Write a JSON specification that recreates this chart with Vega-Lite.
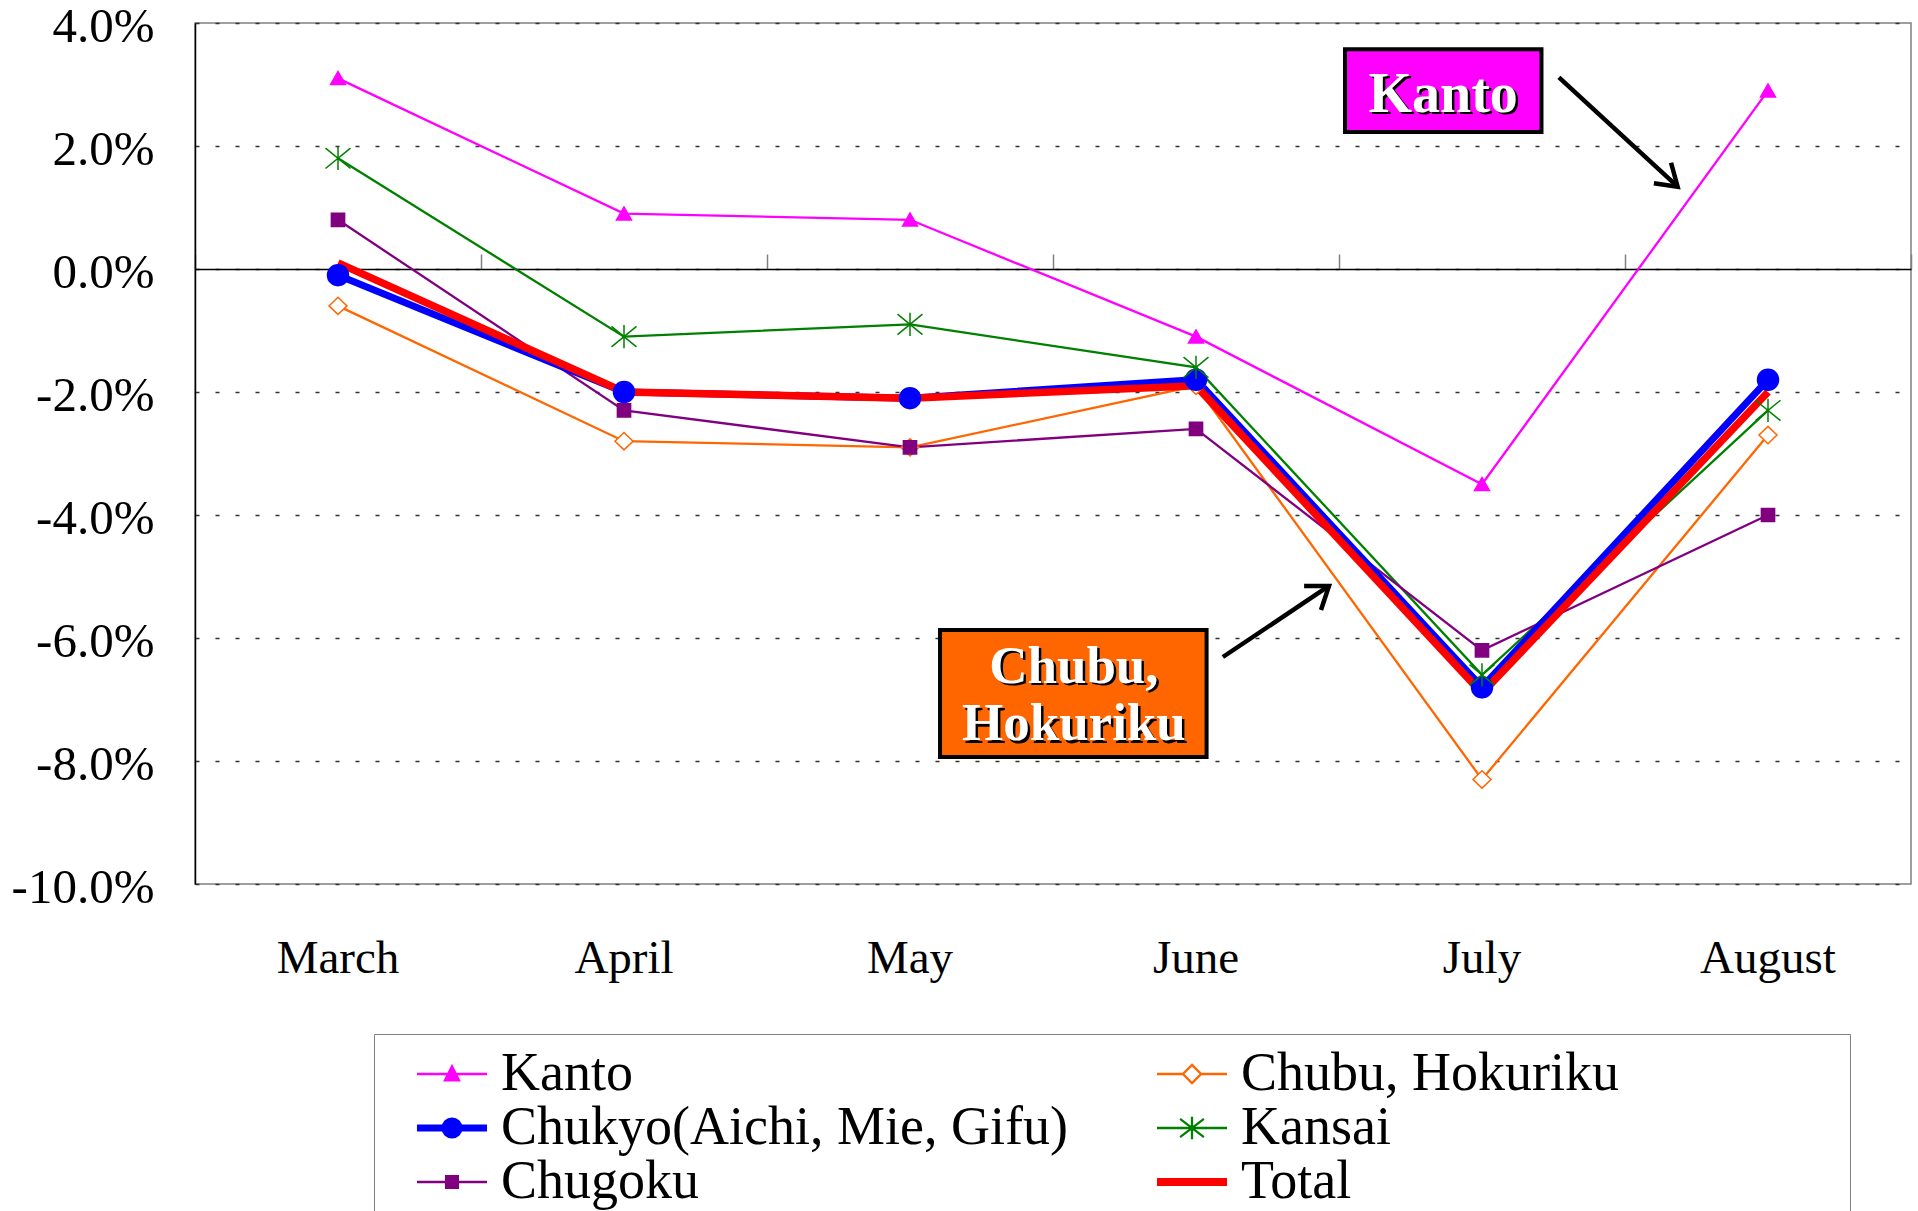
{
  "$schema": "https://vega.github.io/schema/vega-lite/v6.json",
  "width": 1716,
  "height": 861,
  "autosize": {"type": "none"},
  "padding": {"left": 195, "top": 23, "right": 7, "bottom": 327},
  "background": "white",
  "config": {
    "view": {"stroke": "#808080", "strokeWidth": 1.5},
    "font": "Liberation Serif"
  },
  "datasets": {
    "series": [
      {"month": "March", "series": "Kanto", "value": 3.1},
      {"month": "April", "series": "Kanto", "value": 0.9},
      {"month": "May", "series": "Kanto", "value": 0.8},
      {"month": "June", "series": "Kanto", "value": -1.1},
      {"month": "July", "series": "Kanto", "value": -3.5},
      {"month": "August", "series": "Kanto", "value": 2.9},
      {"month": "March", "series": "Chubu, Hokuriku", "value": -0.6},
      {"month": "April", "series": "Chubu, Hokuriku", "value": -2.8},
      {"month": "May", "series": "Chubu, Hokuriku", "value": -2.9},
      {"month": "June", "series": "Chubu, Hokuriku", "value": -1.9},
      {"month": "July", "series": "Chubu, Hokuriku", "value": -8.3},
      {"month": "August", "series": "Chubu, Hokuriku", "value": -2.7},
      {"month": "March", "series": "Chukyo(Aichi, Mie, Gifu)", "value": -0.1},
      {"month": "April", "series": "Chukyo(Aichi, Mie, Gifu)", "value": -2.0},
      {"month": "May", "series": "Chukyo(Aichi, Mie, Gifu)", "value": -2.1},
      {"month": "June", "series": "Chukyo(Aichi, Mie, Gifu)", "value": -1.8},
      {"month": "July", "series": "Chukyo(Aichi, Mie, Gifu)", "value": -6.8},
      {"month": "August", "series": "Chukyo(Aichi, Mie, Gifu)", "value": -1.8},
      {"month": "March", "series": "Kansai", "value": 1.8},
      {"month": "April", "series": "Kansai", "value": -1.1},
      {"month": "May", "series": "Kansai", "value": -0.9},
      {"month": "June", "series": "Kansai", "value": -1.6},
      {"month": "July", "series": "Kansai", "value": -6.6},
      {"month": "August", "series": "Kansai", "value": -2.3},
      {"month": "March", "series": "Chugoku", "value": 0.8},
      {"month": "April", "series": "Chugoku", "value": -2.3},
      {"month": "May", "series": "Chugoku", "value": -2.9},
      {"month": "June", "series": "Chugoku", "value": -2.6},
      {"month": "July", "series": "Chugoku", "value": -6.2},
      {"month": "August", "series": "Chugoku", "value": -4.0},
      {"month": "March", "series": "Total", "value": 0.1},
      {"month": "April", "series": "Total", "value": -2.0},
      {"month": "May", "series": "Total", "value": -2.1},
      {"month": "June", "series": "Total", "value": -1.9},
      {"month": "July", "series": "Total", "value": -6.9},
      {"month": "August", "series": "Total", "value": -2.0}
    ],
    "boxes": [
      {"box": "Kanto", "x": 4.021, "x2": 4.708, "y": 3.572, "y2": 2.228},
      {"box": "Chubu", "x": 2.605, "x2": 3.537, "y": -5.87, "y2": -7.935}
    ],
    "notes": [
      {"box": "Kanto", "text": "Kanto", "x": 4.364, "y": 2.558},
      {"box": "Chubu", "text": "Chubu,", "x": 3.073, "y": -6.73},
      {"box": "Chubu", "text": "Hokuriku", "x": 3.073, "y": -7.659}
    ],
    "arrows": [
      {"g": "k1", "o": 0, "x": 4.769, "y": 3.117},
      {"g": "k1", "o": 1, "x": 5.184, "y": 1.338},
      {"g": "k2", "o": 0, "x": 5.161, "y": 1.728},
      {"g": "k2", "o": 1, "x": 5.184, "y": 1.338},
      {"g": "k2", "o": 2, "x": 5.101, "y": 1.393},
      {"g": "c1", "o": 0, "x": 3.594, "y": -6.309},
      {"g": "c1", "o": 1, "x": 3.965, "y": -5.154},
      {"g": "c2", "o": 0, "x": 3.878, "y": -5.154},
      {"g": "c2", "o": 1, "x": 3.965, "y": -5.154},
      {"g": "c2", "o": 2, "x": 3.937, "y": -5.545}
    ]
  },
  "layer": [
    {
      "data": {"name": "series"},
      "resolve": {"axis": {"x": "independent"}},
      "layer": [
        {
          "transform": [{"filter": "datum.series !== 'Total' && datum.series !== 'Chukyo(Aichi, Mie, Gifu)'"}],
          "mark": {"type": "line", "strokeWidth": 2.3},
          "encoding": {
            "x": {"field": "month", "type": "nominal", "sort": null,
              "scale": {"type": "band", "paddingInner": 0, "paddingOuter": 0},
              "axis": {"orient": "bottom", "title": null, "labelAngle": 0, "ticks": false, "domain": false, "grid": false,
                "labelFont": "Liberation Serif", "labelFontSize": 47, "labelColor": "black",
                "labelBaseline": "alphabetic", "labelPadding": 88}},
            "y": {"field": "value", "type": "quantitative",
              "scale": {"domain": [-10, 4], "nice": false, "zero": false},
              "axis": {"title": null, "values": [-10, -8, -6, -4, -2, 0, 2, 4],
                "labelExpr": "(datum.value < 0 ? '-' : '') + format(abs(datum.value), '.1f') + '%'",
                "labelFont": "Liberation Serif", "labelFontSize": 49, "labelColor": "black",
                "labelBaseline": "alphabetic", "labelOffset": 18.5, "labelPadding": 41,
                "ticks": false, "domain": true, "domainColor": "black", "domainWidth": 1.5,
                "grid": true, "gridColor": "#333333", "gridDash": [4, 16], "gridWidth": 1.4}},
            "color": {"field": "series", "type": "nominal",
              "scale": {"domain": ["Kanto", "Chukyo(Aichi, Mie, Gifu)", "Chugoku", "Chubu, Hokuriku", "Kansai", "Total"],
                "range": ["#FF00FF", "#0000FF", "#800080", "#FF6600", "#008000", "#FF0000"]},
              "legend": {
                "title": "\u00a0", "titleOrient": "right", "titleFontSize": 10, "titlePadding": 218,
                "orient": "none", "legendX": 179, "legendY": 1011,
                "columns": 2, "gridAlign": "all", "padding": 13, "rowPadding": 0, "columnPadding": 59,
                "fillColor": "white", "strokeColor": "#808080",
                "labelFont": "Liberation Serif", "labelFontSize": 54, "labelColor": "black", "labelLimit": 1000,
                "symbolSize": 784, "symbolStrokeWidth": 2.3, "symbolOffset": 38, "labelOffset": 22,
                "encode": {
                  "symbols": {"update": {
                    "shape": {"signal": "{'Kanto': 'M-2.5,0L2.5,0M-0.5,0.45L0,-0.55L0.5,0.45Z', 'Chubu, Hokuriku': 'M-2.5,0L-0.65,0M0.65,0L2.5,0M0,-0.65L0.65,0L0,0.65L-0.65,0Z', 'Chukyo(Aichi, Mie, Gifu)': 'M-2.42,-0.168L2.42,-0.168L2.42,0.168L-2.42,0.168ZM-0.67,0A0.67,0.67,0,1,1,0.67,0A0.67,0.67,0,1,1,-0.67,0Z', 'Kansai': 'M-2.5,0L2.5,0M0,-0.8L0,0.8M-0.85,-0.65L0.85,0.65M-0.85,0.65L0.85,-0.65', 'Chugoku': 'M-2.5,0L2.5,0M-0.42,-0.42L0.42,-0.42L0.42,0.42L-0.42,0.42Z', 'Total': 'M-2.42,-0.2L2.42,-0.2L2.42,0.2L-2.42,0.2Z'}[datum.value]"},
                    "fill": {"signal": "{'Kanto': '#FF00FF', 'Chubu, Hokuriku': '#FFFFFF', 'Chukyo(Aichi, Mie, Gifu)': '#0000FF', 'Kansai': '#008000', 'Chugoku': '#800080', 'Total': '#FF0000'}[datum.value]"},
                    "stroke": {"signal": "{'Kanto': '#FF00FF', 'Chubu, Hokuriku': '#FF6600', 'Chukyo(Aichi, Mie, Gifu)': '#0000FF', 'Kansai': '#008000', 'Chugoku': '#800080', 'Total': '#FF0000'}[datum.value]"},
                    "opacity": {"value": 1},
                    "fillOpacity": {"value": 1},
                    "strokeOpacity": {"value": 1}
                  }}
                }
              }}
          }
        },
        {
          "transform": [{"filter": "datum.series === 'Chukyo(Aichi, Mie, Gifu)'"}],
          "mark": {"type": "line", "strokeWidth": 7},
          "encoding": {
            "x": {"field": "month", "type": "nominal", "sort": null,
              "scale": {"type": "band", "paddingInner": 0, "paddingOuter": 0},
              "axis": {"orient": "top", "offset": -246, "title": null, "labels": false,
                "ticks": true, "tickBand": "extent", "tickSize": 15, "tickColor": "#808080", "tickWidth": 1.5,
                "domain": true, "domainColor": "black", "domainWidth": 1.5, "grid": false}},
            "y": {"field": "value", "type": "quantitative", "scale": {"domain": [-10, 4], "nice": false, "zero": false}},
            "color": {"field": "series", "type": "nominal"}
          }
        },
        {
          "transform": [{"filter": "datum.series === 'Total'"}],
          "mark": {"type": "line", "strokeWidth": 7.5},
          "encoding": {
            "x": {"field": "month", "type": "nominal", "sort": null, "axis": null},
            "y": {"field": "value", "type": "quantitative", "scale": {"domain": [-10, 4], "nice": false, "zero": false}},
            "color": {"field": "series", "type": "nominal"}
          }
        },
        {
          "transform": [{"filter": "datum.series !== 'Total'"}],
          "mark": {"type": "point", "size": 576, "strokeWidth": 1.5, "opacity": 1, "fillOpacity": 1, "strokeOpacity": 1},
          "encoding": {
            "x": {"field": "month", "type": "nominal", "sort": null, "axis": null},
            "y": {"field": "value", "type": "quantitative", "scale": {"domain": [-10, 4], "nice": false, "zero": false}},
            "shape": {"field": "series", "type": "nominal", "legend": null,
              "scale": {"domain": ["Kanto", "Chubu, Hokuriku", "Chukyo(Aichi, Mie, Gifu)", "Kansai", "Chugoku"],
                "range": [
                  "M-0.62,0.52L0,-0.56L0.62,0.52Z",
                  "M0,-0.72L0.75,0L0,0.72L-0.75,0Z",
                  "M-0.875,0A0.875,0.875,0,1,0,0.875,0A0.875,0.875,0,1,0,-0.875,0Z",
                  "M0,-0.97L0,0.97M-1.04,-0.85L1.04,0.85M-1.04,0.85L1.04,-0.85",
                  "M-0.55,-0.55L0.55,-0.55L0.55,0.55L-0.55,0.55Z"
                ]}},
            "fill": {"field": "series", "type": "nominal", "legend": null,
              "scale": {"domain": ["Kanto", "Chubu, Hokuriku", "Chukyo(Aichi, Mie, Gifu)", "Kansai", "Chugoku"],
                "range": ["#FF00FF", "#FFFFFF", "#0000FF", "#008000", "#800080"]}},
            "stroke": {"field": "series", "type": "nominal", "legend": null,
              "scale": {"domain": ["Kanto", "Chubu, Hokuriku", "Chukyo(Aichi, Mie, Gifu)", "Kansai", "Chugoku"],
                "range": ["#FF00FF", "#FF6600", "#0000FF", "#008000", "#800080"]}}
          }
        }
      ]
    },
    {
      "layer": [
        {
          "data": {"name": "boxes"},
          "transform": [{"filter": "datum.box === 'Kanto'"}],
          "mark": {"type": "rect", "fill": "#FF00FF", "stroke": "black", "strokeWidth": 4},
          "encoding": {
            "x": {"field": "x", "type": "quantitative", "scale": {"domain": [0, 6], "nice": false, "zero": false}, "axis": null},
            "x2": {"field": "x2"},
            "y": {"field": "y", "type": "quantitative", "scale": {"domain": [-10, 4], "nice": false, "zero": false}},
            "y2": {"field": "y2"}
          }
        },
        {
          "data": {"name": "boxes"},
          "transform": [{"filter": "datum.box === 'Chubu'"}],
          "mark": {"type": "rect", "fill": "#FF6600", "stroke": "black", "strokeWidth": 4},
          "encoding": {
            "x": {"field": "x", "type": "quantitative", "scale": {"domain": [0, 6], "nice": false, "zero": false}, "axis": null},
            "x2": {"field": "x2"},
            "y": {"field": "y", "type": "quantitative", "scale": {"domain": [-10, 4], "nice": false, "zero": false}},
            "y2": {"field": "y2"}
          }
        },
        {
          "data": {"name": "notes"},
          "transform": [{"filter": "datum.box === 'Kanto'"}],
          "mark": {"type": "text", "font": "Liberation Serif", "fontWeight": "bold", "fontSize": 56, "align": "center", "baseline": "alphabetic", "color": "black", "dx": 2.5, "dy": 2.5},
          "encoding": {
            "x": {"field": "x", "type": "quantitative", "axis": null},
            "y": {"field": "y", "type": "quantitative"},
            "text": {"field": "text"}
          }
        },
        {
          "data": {"name": "notes"},
          "transform": [{"filter": "datum.box === 'Kanto'"}],
          "mark": {"type": "text", "font": "Liberation Serif", "fontWeight": "bold", "fontSize": 56, "align": "center", "baseline": "alphabetic", "color": "white"},
          "encoding": {
            "x": {"field": "x", "type": "quantitative", "axis": null},
            "y": {"field": "y", "type": "quantitative"},
            "text": {"field": "text"}
          }
        },
        {
          "data": {"name": "notes"},
          "transform": [{"filter": "datum.box === 'Chubu'"}],
          "mark": {"type": "text", "font": "Liberation Serif", "fontWeight": "bold", "fontSize": 53, "align": "center", "baseline": "alphabetic", "color": "black", "dx": 2.5, "dy": 2.5},
          "encoding": {
            "x": {"field": "x", "type": "quantitative", "axis": null},
            "y": {"field": "y", "type": "quantitative"},
            "text": {"field": "text"}
          }
        },
        {
          "data": {"name": "notes"},
          "transform": [{"filter": "datum.box === 'Chubu'"}],
          "mark": {"type": "text", "font": "Liberation Serif", "fontWeight": "bold", "fontSize": 53, "align": "center", "baseline": "alphabetic", "color": "white"},
          "encoding": {
            "x": {"field": "x", "type": "quantitative", "axis": null},
            "y": {"field": "y", "type": "quantitative"},
            "text": {"field": "text"}
          }
        },
        {
          "data": {"name": "arrows"},
          "mark": {"type": "line", "color": "black", "strokeWidth": 4.5, "strokeJoin": "miter", "strokeCap": "butt"},
          "encoding": {
            "x": {"field": "x", "type": "quantitative", "axis": null},
            "y": {"field": "y", "type": "quantitative"},
            "detail": {"field": "g"},
            "order": {"field": "o"}
          }
        }
      ]
    }
  ],
  "resolve": {"scale": {"x": "independent"}}
}
